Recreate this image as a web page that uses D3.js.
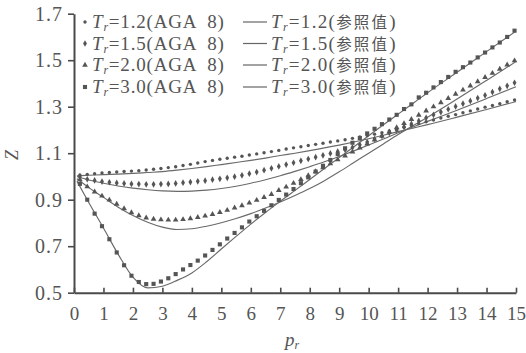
<!DOCTYPE html>
<html><head><meta charset="utf-8">
<script src="https://cdn.jsdelivr.net/npm/d3@7"></script>
<style>
html,body{margin:0;padding:0;background:#fff;}
svg{display:block;font-family:"Liberation Serif","Noto Sans CJK SC",serif;}
</style></head>
<body><svg id="c" width="526" height="353"></svg>
<script>
// ---- data ----
const pMarkers = [0.2,0.45,0.7,0.95,1.2,1.45,1.7,1.95,2.2,2.45,2.7,2.95,3.2,3.45,3.7,3.95,4.2,4.45,4.7,4.95,
  5.2,5.45,5.7,5.95,6.2,6.45,6.7,6.95,7.2,7.45,7.7,7.95,8.2,8.45,8.7,8.95,9.2,9.45,9.7,9.95,
  10.2,10.45,10.7,10.95,11.2,11.45,11.7,11.95,12.2,12.45,12.7,12.95,13.2,13.45,13.7,13.95,14.2,14.45,14.7,14.95];
const zAGA12 = [1.006,1.009,1.012,1.015,1.017,1.019,1.021,1.023,1.025,1.028,1.031,1.034,1.038,1.042,1.047,1.052,1.058,1.064,1.069,1.074,
  1.078,1.083,1.087,1.092,1.097,1.102,1.107,1.112,1.118,1.123,1.128,1.133,1.138,1.143,1.148,1.153,1.158,1.164,1.170,1.176,
  1.182,1.188,1.196,1.204,1.212,1.219,1.227,1.235,1.243,1.251,1.259,1.266,1.274,1.282,1.290,1.298,1.305,1.313,1.321,1.329];
const zAGA15 = [0.998,0.988,0.983,0.978,0.975,0.972,0.970,0.968,0.967,0.966,0.966,0.967,0.968,0.970,0.973,0.976,0.979,0.982,0.986,0.990,
  0.994,0.999,1.005,1.012,1.019,1.027,1.035,1.043,1.051,1.059,1.067,1.075,1.083,1.091,1.099,1.107,1.115,1.125,1.136,1.148,
  1.161,1.174,1.187,1.200,1.213,1.226,1.239,1.252,1.265,1.277,1.289,1.301,1.313,1.325,1.337,1.349,1.363,1.377,1.390,1.403];
const zAGA20 = [0.986,0.956,0.934,0.916,0.899,0.881,0.862,0.845,0.832,0.822,0.817,0.814,0.813,0.813,0.815,0.819,0.824,0.830,0.837,0.846,
  0.855,0.865,0.875,0.886,0.898,0.910,0.923,0.940,0.955,0.971,0.987,1.004,1.021,1.038,1.055,1.072,1.089,1.106,1.123,1.140,
  1.157,1.174,1.192,1.210,1.228,1.246,1.264,1.282,1.300,1.318,1.336,1.354,1.372,1.390,1.408,1.426,1.444,1.462,1.480,1.498];
const zAGA30 = [0.968,0.900,0.840,0.786,0.730,0.673,0.618,0.573,0.546,0.537,0.538,0.548,0.562,0.580,0.600,0.619,0.638,0.660,0.684,0.708,
  0.733,0.757,0.781,0.806,0.829,0.852,0.876,0.899,0.922,0.946,0.971,0.996,1.021,1.046,1.071,1.096,1.121,1.145,1.165,1.185,
  1.205,1.225,1.245,1.265,1.290,1.310,1.340,1.360,1.383,1.406,1.428,1.450,1.470,1.490,1.512,1.533,1.555,1.576,1.600,1.627];

const pRef = [0.1,0.5,1,1.5,2,2.5,3,3.5,4,4.5,5,5.5,6,6.5,7,7.5,8,8.5,9,9.5,10,10.5,11,11.5,12,13,14,15];
const zRef12 = [1.003,1.005,1.008,1.010,1.013,1.017,1.021,1.027,1.034,1.042,1.051,1.060,1.069,1.079,1.090,1.100,1.111,1.123,1.135,1.148,1.162,1.177,1.193,1.208,1.223,1.255,1.288,1.322];
const zRef15 = [1.000,0.985,0.971,0.959,0.950,0.943,0.938,0.936,0.937,0.941,0.948,0.958,0.971,0.986,1.003,1.022,1.042,1.063,1.086,1.110,1.135,1.161,1.188,1.213,1.237,1.285,1.335,1.386];
const zRef20 = [0.990,0.952,0.910,0.868,0.832,0.803,0.782,0.772,0.775,0.786,0.801,0.819,0.840,0.864,0.890,0.918,0.948,0.982,1.020,1.060,1.100,1.140,1.180,1.218,1.255,1.333,1.413,1.494];
const zRef30 = [0.980,0.888,0.778,0.665,0.567,0.521,0.528,0.553,0.585,0.633,0.688,0.742,0.795,0.845,0.893,0.940,0.987,1.034,1.081,1.128,1.175,1.222,1.268,1.314,1.360,1.448,1.537,1.625];

const xTicks = [0,1,2,3,4,5,6,7,8,9,10,11,12,13,14,15];
const yTicks = [0.5,0.7,0.9,1.1,1.3,1.5,1.7];
const trLabels = ["1.2","1.5","2.0","3.0"];

// ---- chart ----
const svg = d3.select("#c");
const x = d3.scaleLinear().domain([0,15]).range([74,516]);
const y = d3.scaleLinear().domain([0.5,1.7]).range([292.7,13.7]);
const ink = "#4a4a4a";

const ga = svg.append("g");
// reference lines
const line = d3.line().x(d=>x(d[0])).y(d=>y(d[1])).curve(d3.curveMonotoneX);
[zRef12,zRef15,zRef20,zRef30].forEach(z=>{
  ga.append("path").attr("d", line(pRef.map((p,i)=>[p,z[i]])))
    .attr("fill","none").attr("stroke","#6a6a6a").attr("stroke-width",1.15);
});
// markers
const syms = [d3.symbol().type(d3.symbolCircle).size(9),
              d3.symbol().type(d3.symbolDiamond).size(13),
              d3.symbol().type(d3.symbolTriangle).size(14),
              d3.symbol().type(d3.symbolSquare).size(17)];
[zAGA12,zAGA15,zAGA20,zAGA30].forEach((z,k)=>{
  ga.append("g").selectAll("path").data(pMarkers.map((p,i)=>[p,z[i]])).join("path")
    .attr("transform",d=>`translate(${x(d[0])},${y(d[1])})`)
    .attr("d",syms[k]()).attr("fill","#555");
});

// axes
const xa = svg.append("g").attr("transform","translate(0,292.7)")
  .call(d3.axisBottom(x).tickValues(xTicks).tickSize(-5).tickSizeOuter(0).tickPadding(14).tickFormat(d3.format("d")));
const ya = svg.append("g").attr("transform","translate(74,0)")
  .call(d3.axisLeft(y).tickValues(yTicks).tickSize(6).tickSizeOuter(0).tickPadding(5).tickFormat(d3.format(".1f")));
[xa,ya].forEach(a=>{
  a.select(".domain").attr("stroke",ink).attr("stroke-width",2);
  a.selectAll(".tick line").attr("stroke",ink).attr("stroke-width",1.6);
  a.selectAll(".tick text").attr("fill","#555").attr("font-family","Liberation Serif");
});
xa.selectAll(".tick text").attr("font-size",19);
ya.selectAll(".tick text").attr("font-size",20).attr("letter-spacing","1px");

// axis titles
svg.append("text").attr("transform","translate(18,155) rotate(-90)")
  .attr("text-anchor","middle").attr("font-size",18).attr("font-style","italic").attr("fill","#555").text("Z");
const pt = svg.append("text").attr("x",285).attr("y",346).attr("font-size",19).attr("fill","#555");
pt.append("tspan").attr("font-style","italic").text("p");
pt.append("tspan").attr("font-style","italic").attr("font-size",12).attr("dy",3).text("r");

// legend
const rowsY = [28,49.5,71,93];
const lg = svg.append("g");
trLabels.forEach((t,i)=>{
  const by = rowsY[i];
  lg.append("path").attr("transform",`translate(85,${by-6})`).attr("d",syms[i]()).attr("fill","#555");
  const t1 = lg.append("text").attr("x",92).attr("y",by).attr("font-size",19).attr("fill","#555")
    .attr("letter-spacing","0.8px").style("white-space","pre");
  t1.append("tspan").attr("font-style","italic").text("T");
  t1.append("tspan").attr("font-style","italic").attr("font-size",12).attr("dy",3).text("r");
  t1.append("tspan").attr("dy",-3).text("=" + t + "(AGA  8)");
  lg.append("line").attr("x1",243).attr("x2",267).attr("y1",by-6).attr("y2",by-6)
    .attr("stroke","#666").attr("stroke-width",1.2);
  const t2 = lg.append("text").attr("x",271).attr("y",by).attr("font-size",19).attr("fill","#555")
    .attr("letter-spacing","1.3px");
  t2.append("tspan").attr("font-style","italic").text("T");
  t2.append("tspan").attr("font-style","italic").attr("font-size",12).attr("dy",3).text("r");
  t2.append("tspan").attr("dy",-3).text("=" + t + "(");
  t2.append("tspan").attr("font-family","Noto Sans CJK SC").attr("font-size",15.5).attr("letter-spacing","2.2px").text("参照值");
  t2.append("tspan").text(")");
});
</script></body></html>
